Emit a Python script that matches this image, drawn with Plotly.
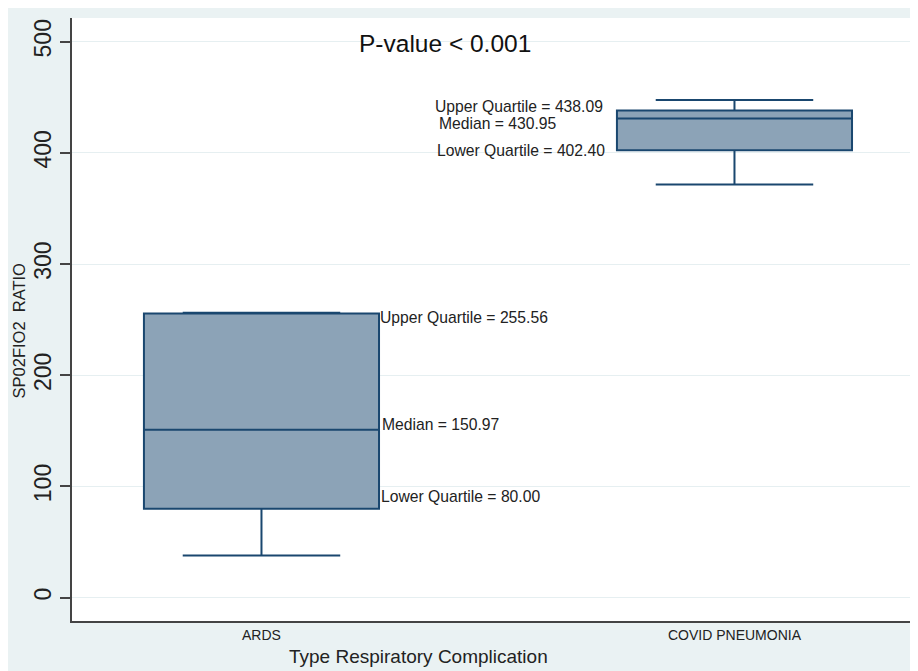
import plotly.graph_objects as go

# ---- data ----
categories = ["ARDS", "COVID PNEUMONIA"]
lower_whisker = [38.0, 371.5]
lower_quartile = [80.00, 402.40]
median = [150.97, 430.95]
upper_quartile = [255.56, 438.09]
upper_whisker = [256.3, 447.5]
y_ticks = [0, 100, 200, 300, 400, 500]

# label text offsets (px) relative to the value they describe
label_shift = {
    "ARDS": {"uq": -4.5, "med": 5, "lq": 12},
    "COVID PNEUMONIA": {"uq": 4.5, "med": -5.5, "lq": 0},
}

FONT = "Liberation Sans, Arial, sans-serif"
NAVY = "#1A476F"
FILL = "#8CA3B7"
BG = "#EAF2F3"

fig = go.Figure()
xpos = list(range(len(categories)))
for i, cat in enumerate(categories):
    fig.add_trace(go.Box(
        x=[xpos[i]],
        q1=[lower_quartile[i]], median=[median[i]], q3=[upper_quartile[i]],
        lowerfence=[lower_whisker[i]], upperfence=[upper_whisker[i]],
        width=0.497, whiskerwidth=0.67,
        fillcolor=FILL, line=dict(color=NAVY, width=2),
        boxpoints=False, showlegend=False, name=cat,
    ))

annotations = []
for i, cat in enumerate(categories):
    s = label_shift[cat]
    if i == 0:
        xs = [xpos[i] + 0.247, xpos[i] + 0.251, xpos[i] + 0.249]
    else:
        xs = [xpos[i] - 0.637, xpos[i] - 0.6285, xpos[i] - 0.633]
    texts = [f"Upper Quartile = {upper_quartile[i]:.2f}",
             f"Median = {median[i]:.2f}",
             f"Lower Quartile = {lower_quartile[i]:.2f}"]
    ys = [upper_quartile[i], median[i], lower_quartile[i]]
    shifts = [s["uq"], s["med"], s["lq"]]
    for xx, tt, yy, sh in zip(xs, texts, ys, shifts):
        annotations.append(dict(x=xx, y=yy, xref="x", yref="y", text=tt,
                                showarrow=False, xanchor="left", yanchor="middle",
                                yshift=sh, font=dict(family=FONT, size=15.7, color="#222")))

annotations.append(dict(x=0.441, y=0.9585, xref="paper", yref="paper",
                        text="P-value < 0.001", showarrow=False,
                        xanchor="center", yanchor="middle",
                        font=dict(family=FONT, size=24.5, color="#111")))
annotations.append(dict(x=0.409, y=-0.0597, xref="paper", yref="paper",
                        text="Type Respiratory Complication", showarrow=False,
                        xanchor="center", yanchor="middle",
                        font=dict(family=FONT, size=19, color="#222")))
annotations.append(dict(x=-0.0615, y=0.4818, xref="paper", yref="paper",
                        text="SP02FIO2  RATIO", showarrow=False, textangle=-90,
                        xanchor="center", yanchor="middle",
                        font=dict(family=FONT, size=16.5, color="#222")))

fig.update_layout(
    width=910, height=663,
    margin=dict(l=64, r=0, t=10, b=50),
    paper_bgcolor=BG, plot_bgcolor="white",
    annotations=annotations,
    font=dict(family=FONT, color="#222"),
)
fig.update_xaxes(
    range=[-0.4006, 1.388], tickvals=xpos, ticktext=categories,
    showgrid=False, zeroline=False, showline=True, linecolor="#444", linewidth=2,
    ticks="", tickfont=dict(family=FONT, size=14, color="#222"),
)
fig.update_yaxes(
    range=[-21, 521.3], tickvals=y_ticks, tickangle=-90,
    showgrid=True, gridcolor="#E6EFF1", gridwidth=1, zeroline=False,
    showline=True, linecolor="#444", linewidth=1.5,
    ticks="outside", ticklen=10, tickcolor="#444", tickwidth=1.5,
    tickfont=dict(family=FONT, size=23, color="#222"),
)

fig.write_html("out.html")
